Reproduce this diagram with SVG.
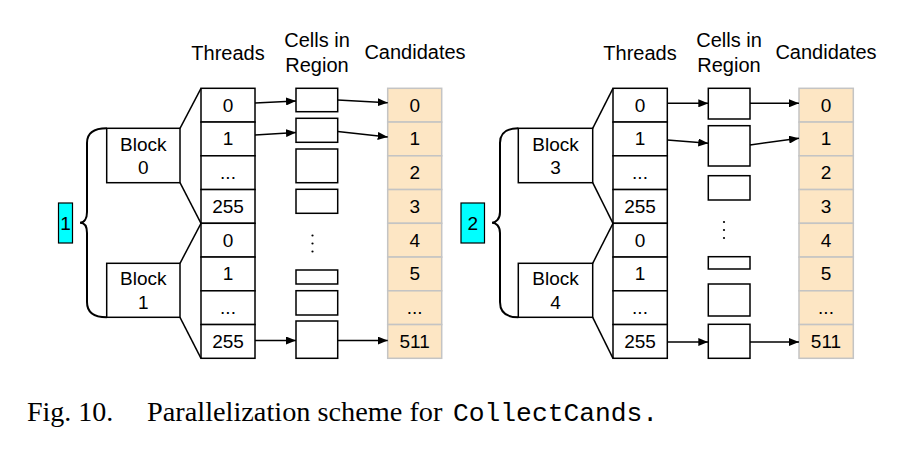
<svg xmlns="http://www.w3.org/2000/svg" width="899" height="452" viewBox="0 0 899 452">
<style>
.bx{fill:#fff;stroke:#000;stroke-width:1.5}
.cd{fill:#fde6c4;stroke:#c4c4c4;stroke-width:1.5}
.lb{fill:#00ffff;stroke:#000;stroke-width:1.2}
.t{font-family:"Liberation Sans",Arial,Helvetica,sans-serif;font-size:19px;fill:#000;text-anchor:middle}
.h{font-family:"Liberation Sans",Arial,Helvetica,sans-serif;font-size:20px;fill:#000;text-anchor:middle}
.ln{fill:none;stroke:#000;stroke-width:1.5}
.ar{fill:none;stroke:#000;stroke-width:1.5;marker-end:url(#ah)}
.br{fill:none;stroke:#000;stroke-width:2}
.dot{fill:#000}
</style>
<defs>
<marker id="ah" viewBox="0 0 10 8" refX="10" refY="4" markerWidth="10" markerHeight="8" markerUnits="userSpaceOnUse" orient="auto">
<path d="M0,0 L10,4 L0,8 z" fill="#000"/>
</marker>
</defs>
<rect width="899" height="452" fill="#fff"/>

<!-- headers -->
<g id="headers">
<text class="h" x="228" y="60">Threads</text>
<text class="h" x="317" y="47">Cells in</text>
<text class="h" x="317" y="72">Region</text>
<text class="h" x="415" y="59">Candidates</text>
<text class="h" x="640" y="60">Threads</text>
<text class="h" x="729" y="47">Cells in</text>
<text class="h" x="729" y="72">Region</text>
<text class="h" x="826" y="59">Candidates</text>
</g>

<!-- LEFT PANEL -->
<g id="label1"><rect class="lb" x="58.5" y="203" width="14" height="40"/><text class="t" x="65.5" y="230">1</text></g>
<g id="block0"><rect class="bx" x="106.7" y="128.3" width="73.3" height="54.4"/><text class="t" x="143.3" y="150.5">Block</text><text class="t" x="143.3" y="174">0</text></g>
<g id="block1"><rect class="bx" x="106.7" y="263.3" width="73.3" height="54"/><text class="t" x="143.3" y="285">Block</text><text class="t" x="143.3" y="309">1</text></g>

<g id="threadsL">
<rect class="bx" x="201" y="88.3" width="54" height="33.75"/><text class="t" x="228" y="111.5">0</text>
<rect class="bx" x="201" y="122.05" width="54" height="33.75"/><text class="t" x="228" y="145.2">1</text>
<rect class="bx" x="201" y="155.8" width="54" height="33.75"/><text class="t" x="228" y="179">...</text>
<rect class="bx" x="201" y="189.55" width="54" height="33.75"/><text class="t" x="228" y="212.7">255</text>
<rect class="bx" x="201" y="223.3" width="54" height="33.75"/><text class="t" x="228" y="246.5">0</text>
<rect class="bx" x="201" y="257.05" width="54" height="33.75"/><text class="t" x="228" y="280.2">1</text>
<rect class="bx" x="201" y="290.8" width="54" height="33.75"/><text class="t" x="228" y="314">...</text>
<rect class="bx" x="201" y="324.55" width="54" height="33.75"/><text class="t" x="228" y="347.7">255</text>
</g>

<g id="cellsL">
<rect class="bx" x="296" y="88.3" width="41.7" height="23.4"/>
<rect class="bx" x="296" y="118.3" width="41.7" height="24"/>
<rect class="bx" x="296" y="149" width="41.7" height="33.7"/>
<rect class="bx" x="296" y="189.3" width="41.7" height="24"/>
<circle class="dot" cx="312.5" cy="235.5" r="1.1"/>
<circle class="dot" cx="312.5" cy="243.5" r="1.1"/>
<circle class="dot" cx="312.5" cy="251.5" r="1.1"/>
<rect class="bx" x="296" y="270" width="41.7" height="14"/>
<rect class="bx" x="296" y="290.7" width="41.7" height="24.3"/>
<rect class="bx" x="296" y="321" width="41.7" height="37.3"/>
</g>

<g id="candsL">
<rect class="cd" x="387.7" y="88.3" width="54" height="33.75"/><text class="t" x="414.7" y="111.5">0</text>
<rect class="cd" x="387.7" y="122.05" width="54" height="33.75"/><text class="t" x="414.7" y="145.2">1</text>
<rect class="cd" x="387.7" y="155.8" width="54" height="33.75"/><text class="t" x="414.7" y="179">2</text>
<rect class="cd" x="387.7" y="189.55" width="54" height="33.75"/><text class="t" x="414.7" y="212.7">3</text>
<rect class="cd" x="387.7" y="223.3" width="54" height="33.75"/><text class="t" x="414.7" y="246.5">4</text>
<rect class="cd" x="387.7" y="257.05" width="54" height="33.75"/><text class="t" x="414.7" y="280.2">5</text>
<rect class="cd" x="387.7" y="290.8" width="54" height="33.75"/><text class="t" x="414.7" y="314">...</text>
<rect class="cd" x="387.7" y="324.55" width="54" height="33.75"/><text class="t" x="414.7" y="347.7">511</text>
</g>

<!-- RIGHT PANEL -->
<g id="label2"><rect class="lb" x="461" y="203" width="23.5" height="40"/><text class="t" x="472.7" y="230">2</text></g>
<g id="block3"><rect class="bx" x="518.3" y="128.3" width="74.4" height="54.4"/><text class="t" x="555.5" y="150.5">Block</text><text class="t" x="555.5" y="174">3</text></g>
<g id="block4"><rect class="bx" x="518.3" y="263.3" width="74.4" height="54"/><text class="t" x="555.5" y="285">Block</text><text class="t" x="555.5" y="309">4</text></g>

<g id="threadsR">
<rect class="bx" x="613" y="88.3" width="54.3" height="33.75"/><text class="t" x="640" y="111.5">0</text>
<rect class="bx" x="613" y="122.05" width="54.3" height="33.75"/><text class="t" x="640" y="145.2">1</text>
<rect class="bx" x="613" y="155.8" width="54.3" height="33.75"/><text class="t" x="640" y="179">...</text>
<rect class="bx" x="613" y="189.55" width="54.3" height="33.75"/><text class="t" x="640" y="212.7">255</text>
<rect class="bx" x="613" y="223.3" width="54.3" height="33.75"/><text class="t" x="640" y="246.5">0</text>
<rect class="bx" x="613" y="257.05" width="54.3" height="33.75"/><text class="t" x="640" y="280.2">1</text>
<rect class="bx" x="613" y="290.8" width="54.3" height="33.75"/><text class="t" x="640" y="314">...</text>
<rect class="bx" x="613" y="324.55" width="54.3" height="33.75"/><text class="t" x="640" y="347.7">255</text>
</g>

<g id="cellsR">
<rect class="bx" x="708.3" y="88.3" width="41.7" height="30.7"/>
<rect class="bx" x="708.3" y="125.7" width="41.7" height="40.3"/>
<rect class="bx" x="708.3" y="175.7" width="41.7" height="24.3"/>
<circle class="dot" cx="724" cy="222" r="1.1"/>
<circle class="dot" cx="724" cy="230" r="1.1"/>
<circle class="dot" cx="724" cy="238" r="1.1"/>
<rect class="bx" x="708.3" y="256.7" width="41.7" height="12.3"/>
<rect class="bx" x="708.3" y="284" width="41.7" height="32"/>
<rect class="bx" x="708.3" y="324.3" width="41.7" height="34"/>
</g>

<g id="candsR">
<rect class="cd" x="799" y="88.3" width="54.3" height="33.75"/><text class="t" x="826" y="111.5">0</text>
<rect class="cd" x="799" y="122.05" width="54.3" height="33.75"/><text class="t" x="826" y="145.2">1</text>
<rect class="cd" x="799" y="155.8" width="54.3" height="33.75"/><text class="t" x="826" y="179">2</text>
<rect class="cd" x="799" y="189.55" width="54.3" height="33.75"/><text class="t" x="826" y="212.7">3</text>
<rect class="cd" x="799" y="223.3" width="54.3" height="33.75"/><text class="t" x="826" y="246.5">4</text>
<rect class="cd" x="799" y="257.05" width="54.3" height="33.75"/><text class="t" x="826" y="280.2">5</text>
<rect class="cd" x="799" y="290.8" width="54.3" height="33.75"/><text class="t" x="826" y="314">...</text>
<rect class="cd" x="799" y="324.55" width="54.3" height="33.75"/><text class="t" x="826" y="347.7">511</text>
</g>

<!-- connectors -->
<g id="connectors">
<path class="br" d="M106.7,128.3 C94,128.3 87,133 87,143 L87,212 C87,219 84,222.7 80,222.7 C84,222.7 87,226 87,233 L87,302 C87,312 94,317.3 106.7,317.3"/>
<line class="ln" x1="180" y1="128.3" x2="201" y2="88.3"/>
<line class="ln" x1="180" y1="182.7" x2="201" y2="223.3"/>
<line class="ln" x1="180" y1="263.3" x2="201" y2="223.3"/>
<line class="ln" x1="180" y1="317.3" x2="201" y2="358.3"/>
<line class="ar" x1="255" y1="103" x2="296" y2="101"/>
<line class="ar" x1="255" y1="135" x2="296" y2="132.5"/>
<line class="ar" x1="255" y1="340.5" x2="296" y2="340.5"/>
<line class="ar" x1="337.7" y1="100" x2="387.7" y2="102.7"/>
<line class="ar" x1="337.7" y1="131.5" x2="387.7" y2="137"/>
<line class="ar" x1="337.7" y1="340.5" x2="387.7" y2="340.5"/>

<path class="br" d="M518.3,128.3 C506,128.3 500,133 500,143 L500,212 C500,219 496,222.7 492,222.7 C496,222.7 500,226 500,233 L500,302 C500,312 506,317.3 518.3,317.3"/>
<line class="ln" x1="592.7" y1="128.3" x2="613" y2="88.3"/>
<line class="ln" x1="592.7" y1="182.7" x2="613" y2="223.3"/>
<line class="ln" x1="592.7" y1="263.3" x2="613" y2="223.3"/>
<line class="ln" x1="592.7" y1="317.3" x2="613" y2="358.3"/>
<line class="ar" x1="667.3" y1="103.3" x2="708.3" y2="103.3"/>
<line class="ar" x1="667.3" y1="140" x2="708.3" y2="143.3"/>
<line class="ar" x1="667.3" y1="342" x2="708.3" y2="342"/>
<line class="ar" x1="750" y1="103.3" x2="799" y2="103.3"/>
<line class="ar" x1="750" y1="145" x2="799" y2="138.3"/>
<line class="ar" x1="750" y1="342" x2="799" y2="342"/>
</g>

<g id="caption">
<text x="27" y="421" font-family="'Liberation Serif','Times New Roman',serif" font-size="28" fill="#000">Fig. 10.</text>
<text x="147" y="421" font-family="'Liberation Serif','Times New Roman',serif" font-size="28.3" fill="#000">Parallelization scheme for</text>
<text x="453" y="421" font-family="'Liberation Mono','Courier New',monospace" font-size="26.3" fill="#000">CollectCands.</text>
</g>
</svg>
